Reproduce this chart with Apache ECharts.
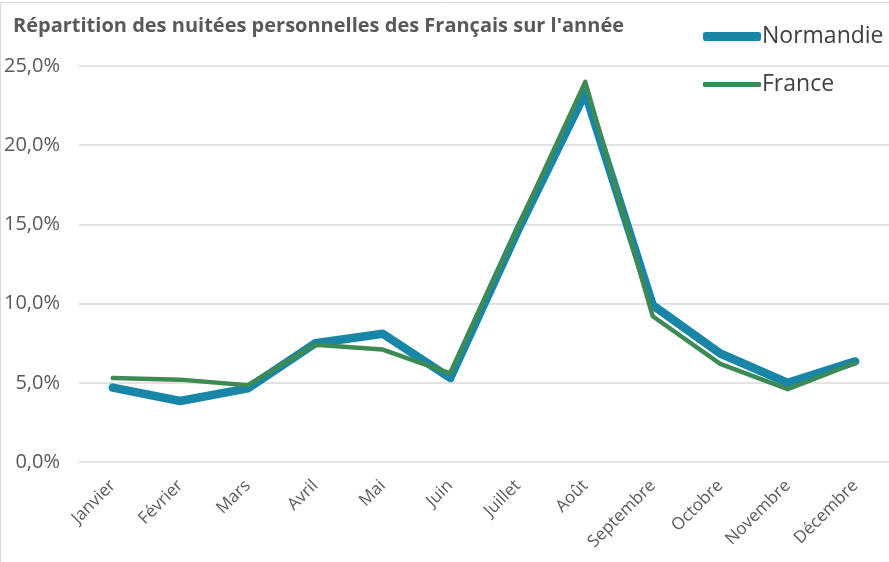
<!DOCTYPE html>
<html>
<head>
<meta charset="utf-8">
<script src="https://cdn.jsdelivr.net/npm/echarts@6/dist/echarts.min.js"></script>
<style>
  html, body { margin: 0; padding: 0; background: #fff; }
  #Chart { width: 889px; height: 562px; }
</style>
</head>
<body>
<div id="Chart"></div>
<script>
// données
var mois = ['Janvier', 'Février', 'Mars', 'Avril', 'Mai', 'Juin', 'Juillet', 'Août', 'Septembre', 'Octobre', 'Novembre', 'Décembre'];
var normandie = [4.7, 3.85, 4.65, 7.5, 8.1, 5.3, 14.6, 23.3, 9.9, 6.85, 5.0, 6.35];
var france = [5.3, 5.2, 4.85, 7.4, 7.1, 5.6, 14.8, 24.0, 9.2, 6.2, 4.6, 6.25];
var yTicks = [0, 5, 10, 15, 20, 25];

var colorN = "#1a86a7";
var colorF = "#3e8a55";
var textColor = "#595959";
var fontFam = "'Open Sans', 'Noto Sans', sans-serif";

var myChart = echarts.init(document.getElementById("Chart"));
var option = {
    animation: false,
    backgroundColor: '#fff',
    title: {
        text: "Répartition des nuitées personnelles des Français sur l'année",
        left: 8,
        top: 11,
        textStyle: {
            fontFamily: fontFam,
            fontSize: 20,
            fontWeight: 'bold',
            color: textColor
        }
    },
    graphic: [{
        type: 'rect',
        shape: { x: 0.5, y: 2.5, width: 900, height: 600 },
        style: { fill: 'none', stroke: '#d9d9d9', lineWidth: 1 },
        silent: true
    }],
    legend: [
        {
            data: [{ name: 'Normandie', icon: 'roundRect' }],
            left: 703,
            top: 25,
            padding: 0,
            itemWidth: 58,
            itemHeight: 9,
            textStyle: { fontFamily: fontFam, fontSize: 23, color: '#404040', padding: [0, 0, 0, -4] }
        },
        {
            data: [{ name: 'France', icon: 'roundRect' }],
            left: 703,
            top: 73,
            padding: 0,
            itemWidth: 58,
            itemHeight: 5,
            textStyle: { fontFamily: fontFam, fontSize: 23, color: '#404040', padding: [0, 0, 0, -4] }
        }
    ],
    grid: {
        left: 79,
        top: 66,
        width: 817,
        bottom: 100,
        containLabel: false
    },
    xAxis: {
        type: 'category',
        data: mois,
        boundaryGap: true,
        axisLine: { show: false },
        axisTick: { show: false },
        axisLabel: {
            rotate: 45,
            interval: 0,
            margin: 21,
            fontFamily: fontFam,
            fontSize: 17,
            color: textColor
        }
    },
    yAxis: {
        type: 'value',
        min: yTicks[0],
        max: yTicks[yTicks.length - 1],
        interval: 5,
        axisLine: { show: false },
        axisTick: { show: false },
        splitLine: {
            show: true,
            lineStyle: { color: '#d9d9d9', width: 1.5 }
        },
        axisLabel: {
            margin: 19,
            fontFamily: fontFam,
            fontSize: 20,
            color: textColor,
            formatter: function (v) {
                return v.toFixed(1).replace('.', ',') + '%';
            }
        }
    },
    series: [
        {
            name: 'Normandie',
            type: 'line',
            data: normandie,
            symbol: 'none',
            itemStyle: { color: colorN },
            lineStyle: { color: colorN, width: 8.5, cap: 'round', join: 'round' }
        },
        {
            name: 'France',
            type: 'line',
            data: france,
            symbol: 'none',
            itemStyle: { color: colorF },
            lineStyle: { color: colorF, width: 4.5, cap: 'round', join: 'round' }
        }
    ]
};
myChart.setOption(option);
window.addEventListener("resize", function () {
    myChart.resize();
});
</script>
</body>
</html>
